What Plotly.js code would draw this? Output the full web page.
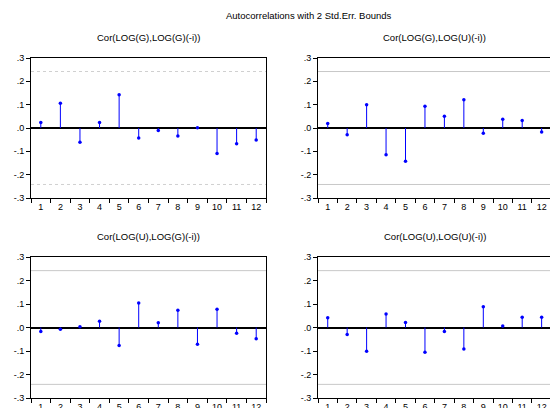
<!DOCTYPE html>
<html>
<head>
<meta charset="utf-8">
<script src="https://cdn.plot.ly/plotly-3.0.1.min.js"></script>
<style>html,body{margin:0;padding:0;overflow:hidden;background:#fff}#chart{width:550px;height:408px}</style>
</head>
<body>
<div id="chart"></div>
<script>
const lags = ['1','2','3','4','5','6','7','8','9','10','11','12'];
const corGG = [0.024, 0.106, -0.061, 0.024, 0.143, -0.043, -0.011, -0.034, 0.001, -0.109, -0.067, -0.051];
const corGU = [0.019, -0.029, 0.100, -0.115, -0.143, 0.093, 0.050, 0.121, -0.023, 0.037, 0.032, -0.017];
const corUG = [-0.017, -0.007, 0.003, 0.027, -0.077, 0.104, 0.020, 0.073, -0.071, 0.078, -0.024, -0.048];
const corUU = [0.041, -0.030, -0.101, 0.057, 0.021, -0.105, -0.017, -0.091, 0.088, 0.006, 0.044, 0.044];
const panelTitles = ['Cor(LOG(G),LOG(G)(-i))', 'Cor(LOG(G),LOG(U)(-i))', 'Cor(LOG(U),LOG(G)(-i))', 'Cor(LOG(U),LOG(U)(-i))'];
const stdErrBound = 0.242;
const yTickVals = [-0.3, -0.2, -0.1, 0, 0.1, 0.2, 0.3];
const yTickText = ['-.3', '-.2', '-.1', '.0', '.1', '.2', '.3'];

const series = [corGG, corGU, corUG, corUU];
const W = 550, H = 408;
const boxes = [
  {x0: 31, x1: 266, y0: 58, y1: 198, xr: [-0.5, 11.5], dotted: true},
  {x0: 318, x1: 550, y0: 58, y1: 198, xr: [-0.5, 11.43], dotted: false},
  {x0: 31, x1: 266, y0: 257, y1: 398, xr: [-0.5, 11.5], dotted: false},
  {x0: 318, x1: 550, y0: 257, y1: 398, xr: [-0.5, 11.43], dotted: false}
];

const data = [];
const layout = {
  width: W, height: H,
  margin: {l: 0, r: 0, t: 0, b: 0},
  paper_bgcolor: '#fff', plot_bgcolor: '#fff',
  showlegend: false,
  font: {family: 'Liberation Sans, Arial, sans-serif', color: '#000', size: 9},
  shapes: [],
  annotations: [{
    text: 'Autocorrelations with 2 Std.Err. Bounds', xref: 'paper', yref: 'paper',
    x: 309 / W, y: 1 - 16 / H, xanchor: 'center', yanchor: 'middle', showarrow: false,
    font: {size: 9.5, color: '#000'}
  }]
};

series.forEach((vals, i) => {
  const n = i + 1;
  const xa = n === 1 ? 'x' : 'x' + n;
  const ya = n === 1 ? 'y' : 'y' + n;
  const b = boxes[i];
  const sx = [], sy = [];
  lags.forEach((l, k) => { sx.push(l, l, null); sy.push(0, vals[k], null); });
  data.push({type: 'scatter', mode: 'lines', x: sx, y: sy, xaxis: xa, yaxis: ya,
    line: {color: '#0000ff', width: 1}, hoverinfo: 'skip', connectgaps: false});
  data.push({type: 'scatter', mode: 'markers', x: lags, y: vals, xaxis: xa, yaxis: ya,
    marker: {color: '#0000ff', size: 3.5}});
  [stdErrBound, -stdErrBound].forEach(v => {
    layout.shapes.push({type: 'line', xref: xa + ' domain', yref: ya, x0: 0, x1: 1, y0: v, y1: v,
      line: {color: b.dotted ? '#d0d0d0' : '#c8c8c8', width: 1, dash: b.dotted ? 'dot' : 'solid'}, layer: 'below'});
  });
  const xkey = n === 1 ? 'xaxis' : 'xaxis' + n;
  const ykey = n === 1 ? 'yaxis' : 'yaxis' + n;
  layout[xkey] = {
    domain: [b.x0 / W, b.x1 / W], anchor: ya, type: 'category', range: b.xr,
    categoryorder: 'array', categoryarray: lags,
    tickson: 'boundaries', ticks: 'outside', ticklen: 4, tickcolor: '#000', tickwidth: 1,
    showline: true, linecolor: '#000', linewidth: 1, mirror: true,
    showgrid: false, zeroline: false, fixedrange: true,
    tickfont: {size: 9, color: '#000'}
  };
  layout[ykey] = {
    domain: [1 - b.y1 / H, 1 - b.y0 / H], anchor: xa, range: [-0.3, 0.3],
    tickvals: yTickVals, ticktext: yTickText, ticks: 'outside', ticklen: 4, tickcolor: '#000',
    showline: true, linecolor: '#000', linewidth: 1, mirror: true,
    showgrid: false, zeroline: true, zerolinecolor: '#000', zerolinewidth: 2,
    fixedrange: true, tickfont: {size: 9, color: '#000'}
  };
  layout.annotations.push({
    text: panelTitles[i], xref: 'paper', yref: 'paper',
    x: (b.x0 + (i % 2 === 1 ? 551 : b.x1)) / 2 / W, y: 1 - (b.y0 - 21) / H,
    xanchor: 'center', yanchor: 'middle', showarrow: false, font: {size: 9.5, color: '#000'}
  });
});

Plotly.newPlot('chart', data, layout, {displayModeBar: false, staticPlot: true});
</script>
</body>
</html>
